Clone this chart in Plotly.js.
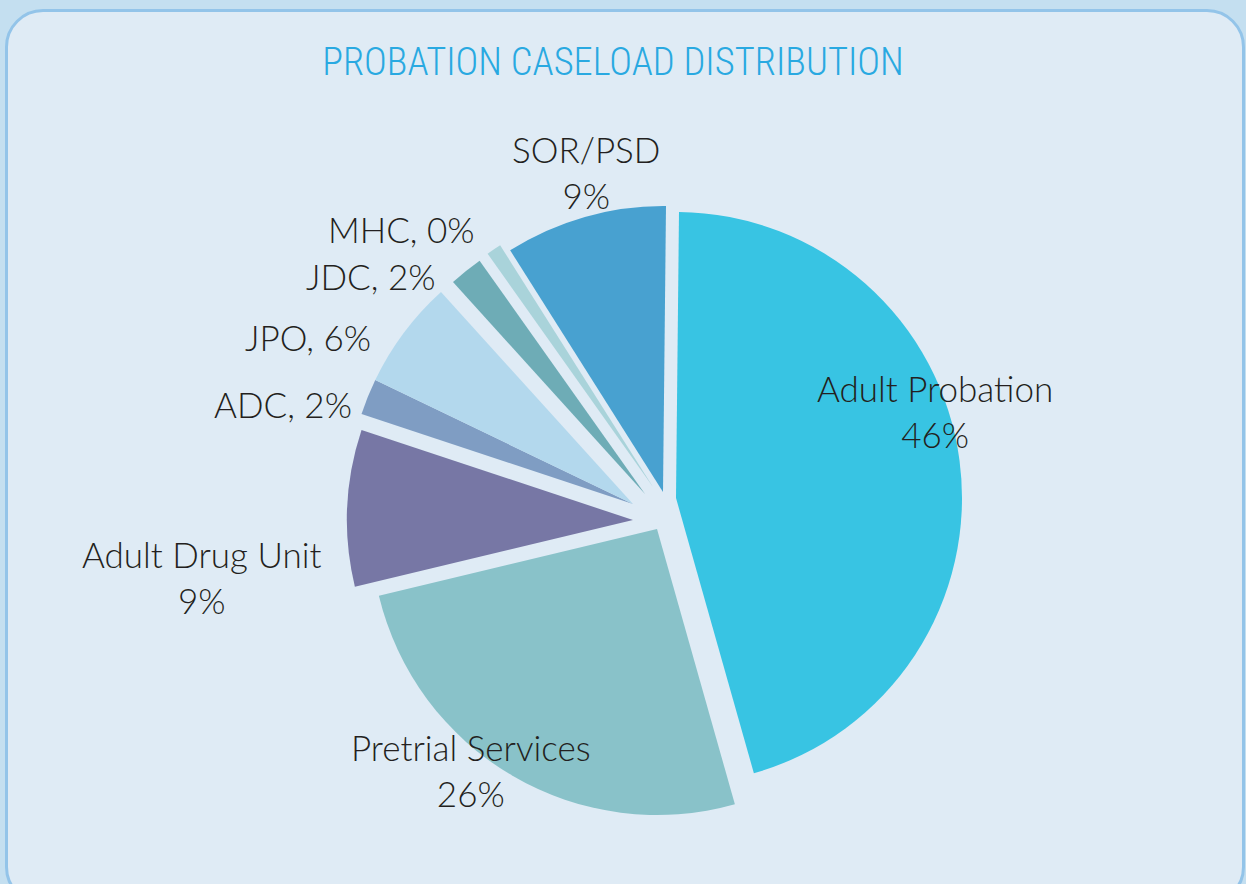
<!DOCTYPE html>
<html><head><meta charset="utf-8">
<script src="https://cdn.plot.ly/plotly-3.0.1.min.js"></script>
<style>
html,body{margin:0;padding:0;background:#c4dff0;width:1246px;height:884px;overflow:hidden;}
#panel{position:absolute;left:5px;top:9px;width:1234px;height:890px;background:#dfebf5;border:3px solid #93c4e9;border-radius:38px;}
#chart{position:absolute;left:0;top:0;width:1246px;height:884px;}
</style></head><body>
<div id="panel"></div><div id="chart"></div>
<script>
// ---- data ----
const categories = ["Adult Probation", "Pretrial Services", "Adult Drug Unit", "ADC", "JPO", "JDC", "MHC", "SOR/PSD"];
const shares = [45.44, 25.64, 8.84, 2.04, 6.15, 1.90, 0.84, 9.14];   // slice sizes (%)
const percentLabels = [46, 26, 9, 2, 6, 2, 0, 9];                     // printed labels (%)

// ---- styling / layout ----
const colors = ["#38c4e3", "#89c2c9", "#7777a5", "#7f9dc3", "#b3d8ed", "#6eacb6", "#a9d3da", "#48a1d0"];
const W = 1246, H = 884, R = 286;
// exploded position (pixel centre of each wedge's tip)
const tips = [[676,498],[657,529],[633,520],[633,504],[633,504],[645,494],[653,487],[663,492]];
// label placement: [x, y, xanchor, stacked?]
const labelPos = [
  [935, 411, 'center', true],
  [471, 770, 'center', true],
  [201, 577, 'center', true],
  [354, 404, 'right', false],
  [373, 337, 'right', false],
  [438, 276, 'right', false],
  [477, 229, 'right', false],
  [586, 172, 'center', true]
];

const traces = categories.map((c, i) => ({
  type: 'pie',
  values: shares,
  labels: categories,
  sort: false,
  direction: 'clockwise',
  rotation: 0.6,
  textinfo: 'none',
  hoverinfo: 'label+percent',
  showlegend: false,
  marker: {
    colors: colors.map((col, j) => j === i ? col : 'rgba(0,0,0,0)'),
    line: {width: 0}
  },
  domain: {
    x: [(tips[i][0] - R) / W, (tips[i][0] + R) / W],
    y: [1 - (tips[i][1] + R) / H, 1 - (tips[i][1] - R) / H]
  }
}));

const labelFont = {family: 'Lato, "Open Sans", sans-serif', size: 35, weight: 300, color: '#231f20'};
const annotations = categories.map((c, i) => {
  const p = labelPos[i];
  return {
    xref: 'paper', yref: 'paper',
    x: p[0] / W, y: 1 - p[1] / H,
    xanchor: p[2], yanchor: 'middle',
    text: p[3] ? (c + '<br>' + percentLabels[i] + '%') : (c + ', ' + percentLabels[i] + '%'),
    showarrow: false,
    align: 'center',
    font: labelFont
  };
});

const layout = {
  width: W, height: H,
  margin: {l: 0, r: 0, t: 0, b: 0},
  paper_bgcolor: 'rgba(0,0,0,0)',
  plot_bgcolor: 'rgba(0,0,0,0)',
  title: {
    text: 'PROBATION CASELOAD DISTRIBUTION',
    font: {family: '"Liberation Sans Narrow", "Roboto Condensed", "DejaVu Sans Condensed", Roboto, sans-serif', size: 38.5, weight: 300, color: '#29a9e1'},
    x: 613 / W, xanchor: 'center',
    y: 1 - 62 / H, yanchor: 'middle'
  },
  annotations: annotations
};

Plotly.newPlot('chart', traces, layout, {displayModeBar: false});
</script>
</body></html>
